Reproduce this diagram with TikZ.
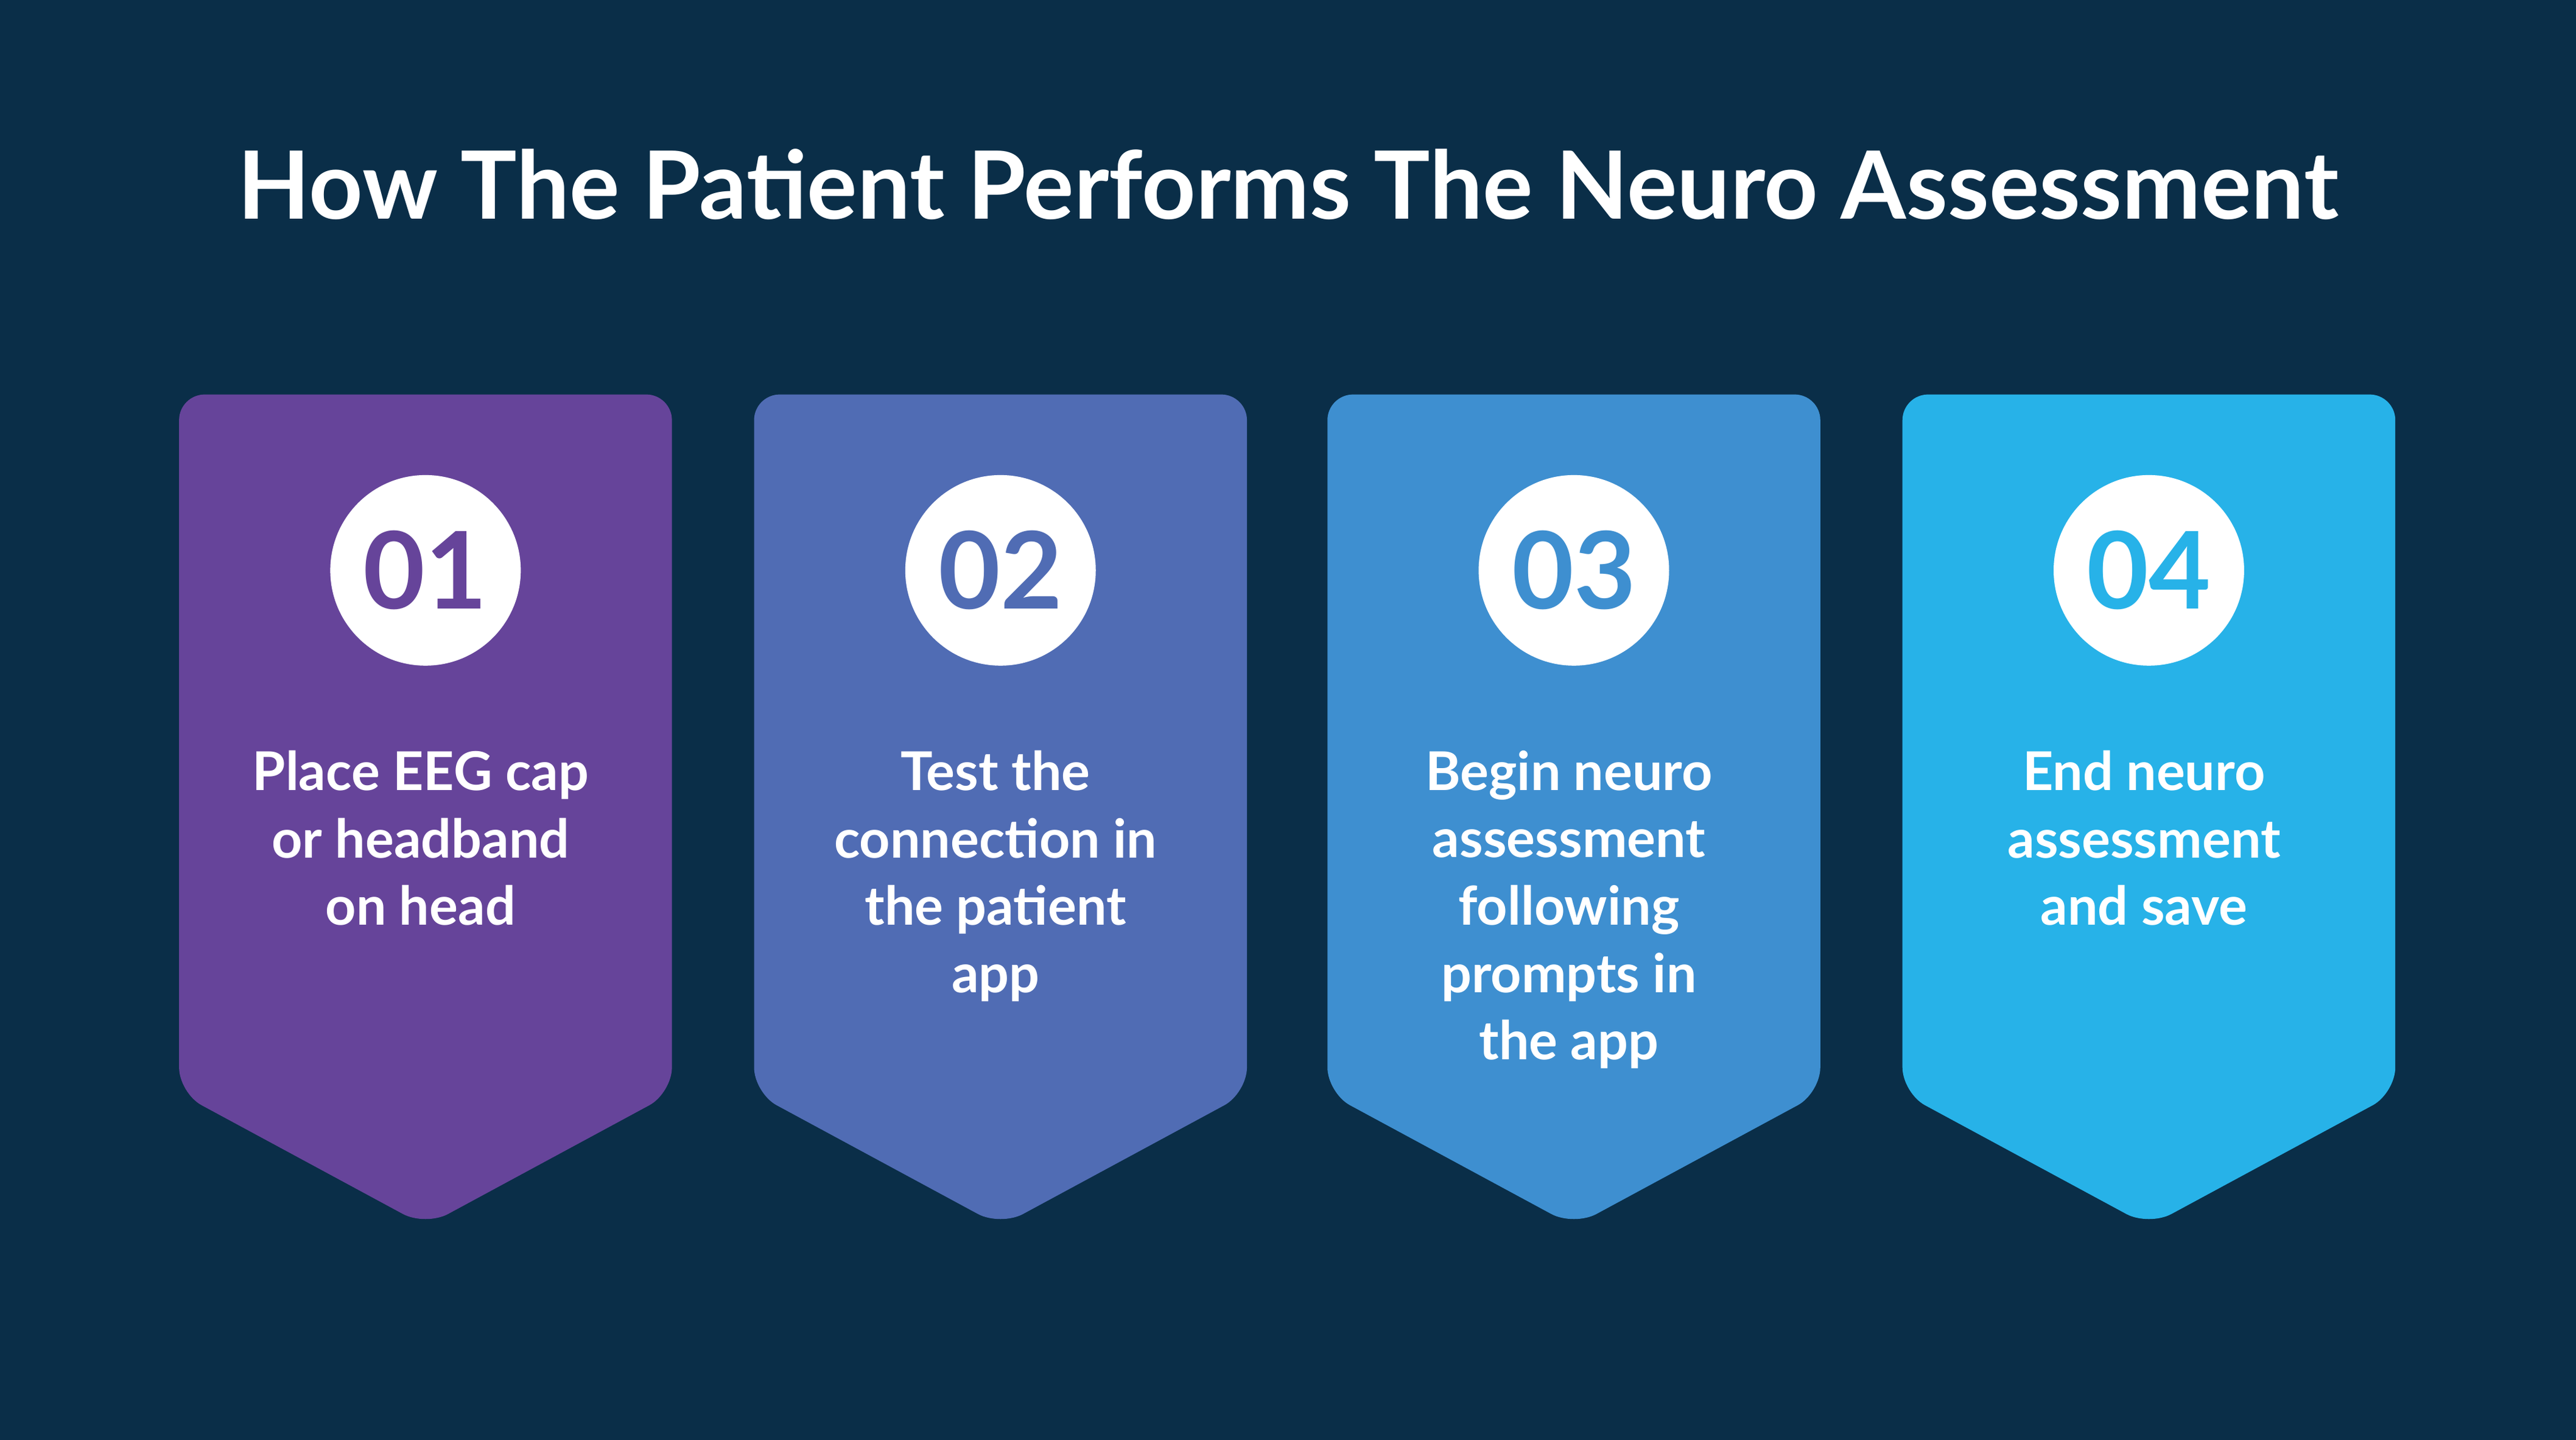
\documentclass[tikz,border=0pt]{standalone}
\usepackage{fontspec}
\setmainfont{Lato}
\usetikzlibrary{positioning}
\definecolor{bgnavy}{HTML}{0A2E48}
\definecolor{stepA}{HTML}{66449A}
\definecolor{stepB}{HTML}{506CB4}
\definecolor{stepC}{HTML}{3E8FD0}
\definecolor{stepD}{HTML}{27B2E8}
\tikzset{
  steptext/.style={text=white,align=center,font=\fontsize{25}{31.5}\selectfont\bfseries,anchor=north},
  stepnum/.style={circle,fill=white,minimum size=3.13cm,inner sep=0pt,font=\fontsize{50}{50}\selectfont\bfseries}
}
\begin{document}
\begin{tikzpicture}[x=0.027cm,y=-0.027cm]
\fill[bgnavy] (0,0) rectangle (1568,876);
\useasboundingbox (0,0) rectangle (1568,876);
\node (title) at (784,112) [text=white,font=\fontsize{44}{44}\selectfont\bfseries] {How The Patient Performs The Neuro Assessment};

\foreach \x/\c/\n/\t in {259/stepA/01/{Place EEG cap\\or headband\\on head},
                        609/stepB/02/{Test the\\connection in\\the patient\\app},
                        958/stepC/03/{Begin neuro\\assessment\\following\\prompts in\\the app},
                        1308/stepD/04/{End neuro\\assessment\\and save}} {
\fill[\c,rounded corners=12] (\x-150,665) -- (\x-150,240) -- (\x+150,240) -- (\x+150,665) -- (\x,746) -- cycle;
\node (num\n) at (\x,347) [stepnum,text=\c] {\n};
\node (txt\n) at (\x-3,452) [steptext] {\t};
}
\end{tikzpicture}
\end{document}
